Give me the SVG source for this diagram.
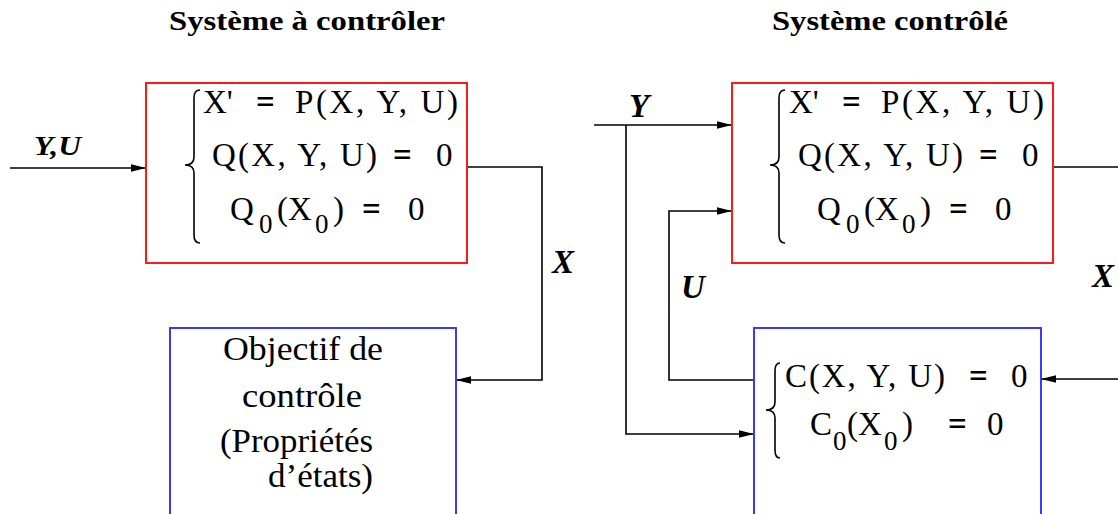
<svg xmlns="http://www.w3.org/2000/svg" width="1118" height="514" viewBox="0 0 1118 514">
<style>
  text { font-family: "Liberation Serif", "Times New Roman", serif; fill: #000; }
  .title { font-weight: bold; font-size: 28px; }
  .lbl { font-weight: bold; font-style: italic; font-size: 33px; }
  .eq { font-size: 33px; }
  .eqs { font-size: 33px; font-weight: bold; }
  .sub { font-size: 27px; }
  .txt { font-size: 33px; }
  .red { fill: none; stroke: #ff1a1a; stroke-width: 2; }
  .blue { fill: none; stroke: #3a3aff; stroke-width: 2; }
  .brace { fill: none; stroke: #000; stroke-width: 1.6; }
  .conn path { fill: none; stroke: #000; stroke-width: 1.6; }
</style>
<defs>
  <marker id="arr" markerUnits="userSpaceOnUse" markerWidth="16" markerHeight="10" refX="15" refY="5" orient="auto">
    <path d="M0,1.2 L15,5 L0,8.8 z" fill="#000"/>
  </marker>
</defs>
<rect width="1118" height="514" fill="#fff"/>

<text class="title" x="169" y="30" textLength="276" lengthAdjust="spacingAndGlyphs">Système à contrôler</text>
<text class="title" x="772" y="30" textLength="236" lengthAdjust="spacingAndGlyphs">Système contrôlé</text>

<g class="conn" id="connectors">
  <path d="M10 168 H146" marker-end="url(#arr)"/>
  <path d="M467 167 H542 V380 H456" marker-end="url(#arr)"/>
  <path d="M594 125 H732" marker-end="url(#arr)"/>
  <path d="M626 125 V434 H754" marker-end="url(#arr)"/>
  <path d="M754 380 H669 V211 H732" marker-end="url(#arr)"/>
  <path d="M1053 167 H1118"/>
  <path d="M1118 379 H1041" marker-end="url(#arr)"/>
  <text class="lbl" x="34" y="155" style="font-size:28px" textLength="47" lengthAdjust="spacingAndGlyphs">Y,U</text>
  <text class="lbl" x="629" y="117">Y</text>
  <text class="lbl" x="552" y="273">X</text>
  <text class="lbl" x="681" y="298">U</text>
  <text class="lbl" x="1092" y="287">X</text>
</g>

<g id="systeme-a-controler">
  <rect class="red" x="146" y="83" width="321" height="180"/>
  <path class="brace" d="M200 90 Q194 90 194 98 L194 157 Q194 165 185 165 Q194 165 194 173 L194 235 Q194 243 200 243"/>
  <text class="eq" x="203" y="113">X'</text>
  <text class="eqs" x="256" y="113">=</text>
  <text class="eq" x="295" y="113" textLength="163" lengthAdjust="spacing">P(X, Y, U)</text>
  <text class="eq" x="212" y="166" textLength="165" lengthAdjust="spacing">Q(X, Y, U)</text>
  <text class="eqs" x="393" y="166">=</text>
  <text class="eq" x="436" y="166">0</text>
  <text class="eq" x="230" y="220">Q</text>
  <text class="sub" x="259" y="233">0</text>
  <text class="eq" x="277" y="220">(X</text>
  <text class="sub" x="315" y="233">0</text>
  <text class="eq" x="333" y="220">)</text>
  <text class="eqs" x="362" y="220">=</text>
  <text class="eq" x="408" y="220">0</text>
</g>

<g id="objectif">
  <rect class="blue" x="170" y="328" width="286" height="200"/>
  <text class="txt" x="223" y="360" textLength="160" lengthAdjust="spacingAndGlyphs">Objectif de</text>
  <text class="txt" x="242" y="407" textLength="120" lengthAdjust="spacingAndGlyphs">contrôle</text>
  <text class="txt" x="220" y="452" textLength="153" lengthAdjust="spacingAndGlyphs">(Propriétés</text>
  <text class="txt" x="268" y="487" textLength="105" lengthAdjust="spacingAndGlyphs">d’états)</text>
</g>

<g id="systeme-controle">
  <rect class="red" x="732" y="83" width="321" height="180"/>
  <path class="brace" d="M785 90 Q779 90 779 98 L779 157 Q779 165 770 165 Q779 165 779 173 L779 235 Q779 243 785 243"/>
  <text class="eq" x="789" y="113">X'</text>
  <text class="eqs" x="842" y="113">=</text>
  <text class="eq" x="881" y="113" textLength="163" lengthAdjust="spacing">P(X, Y, U)</text>
  <text class="eq" x="798" y="166" textLength="165" lengthAdjust="spacing">Q(X, Y, U)</text>
  <text class="eqs" x="979" y="166">=</text>
  <text class="eq" x="1022" y="166">0</text>
  <text class="eq" x="817" y="220">Q</text>
  <text class="sub" x="846" y="233">0</text>
  <text class="eq" x="864" y="220">(X</text>
  <text class="sub" x="902" y="233">0</text>
  <text class="eq" x="920" y="220">)</text>
  <text class="eqs" x="949" y="220">=</text>
  <text class="eq" x="995" y="220">0</text>
</g>

<g id="controleur">
  <rect class="blue" x="754" y="328" width="287" height="200"/>
  <path class="brace" d="M780 363 Q775 363 775 371 L775 402 Q775 410 766 410 Q775 410 775 418 L775 450 Q775 458 780 458"/>
  <text class="eq" x="785" y="387" textLength="160" lengthAdjust="spacing">C(X, Y, U)</text>
  <text class="eqs" x="969" y="387">=</text>
  <text class="eq" x="1011" y="387">0</text>
  <text class="eq" x="810" y="435">C</text>
  <text class="sub" x="833" y="450">0</text>
  <text class="eq" x="847" y="435">(X</text>
  <text class="sub" x="884" y="450">0</text>
  <text class="eq" x="902" y="435">)</text>
  <text class="eqs" x="948" y="435">=</text>
  <text class="eq" x="987" y="435">0</text>
</g>
</svg>
